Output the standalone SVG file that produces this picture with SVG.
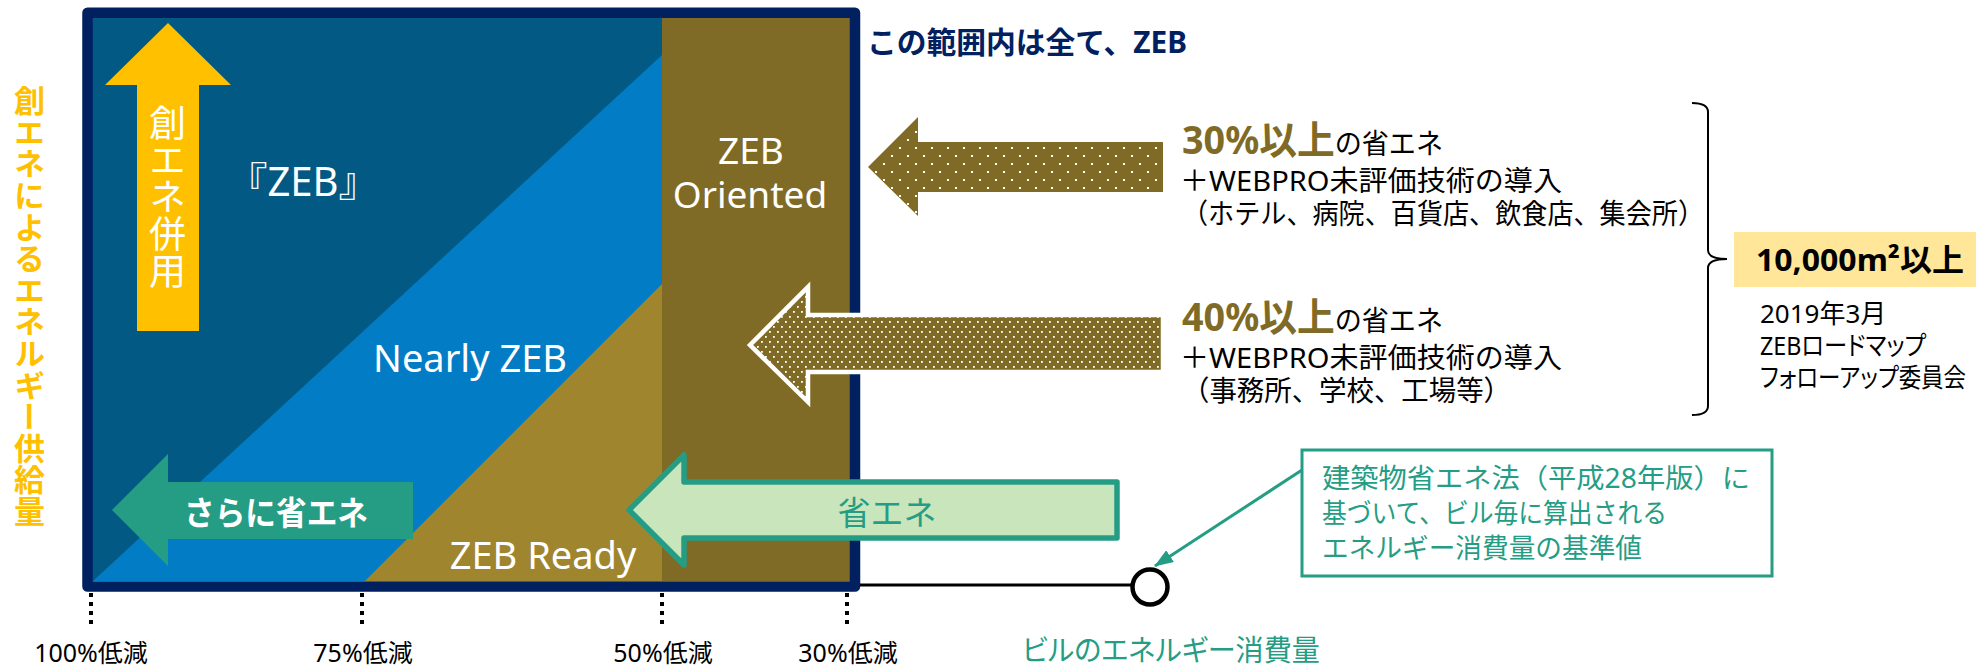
<svg xmlns="http://www.w3.org/2000/svg" width="1976" height="669" viewBox="0 0 1976 669">
<style>
text { font-family: "Noto Sans", "Noto Sans CJK JP", sans-serif; }
.w { fill: #ffffff; }
.k { fill: #000000; }
.teal { fill: #259D85; }
.vert { writing-mode: vertical-rl; text-orientation: upright; }
.palt { font-feature-settings: "palt"; }
.tick { stroke: #000; stroke-width: 4; stroke-dasharray: 4 5; fill: none; }
</style>
<defs>
<pattern id="dots1" width="16" height="16" patternUnits="userSpaceOnUse">
<rect width="16" height="16" fill="#806B26"/>
<rect x="3" y="3" width="2" height="2" fill="#fff"/>
<rect x="11" y="11" width="2" height="2" fill="#fff"/>
</pattern>
<pattern id="dots2" width="8" height="10" patternUnits="userSpaceOnUse">
<rect width="8" height="10" fill="#806B26"/>
<rect x="1" y="1" width="1.8" height="1.8" fill="#fff"/>
<rect x="5" y="6" width="1.8" height="1.8" fill="#fff"/>
</pattern>
<marker id="ah" markerWidth="20" markerHeight="16" refX="18" refY="7" orient="auto" markerUnits="userSpaceOnUse">
<path d="M0,0 L19,7 L0,14 Z" fill="#259D85"/>
</marker>
</defs>

<g id="chart">
<rect x="92" y="18" width="758" height="563" fill="#025A84"/>
<polygon points="93,581 662,55 662,581" fill="#027CC5"/>
<polygon points="365,581 662,284 662,581" fill="#A0852F"/>
<rect x="662" y="18" width="188" height="563" fill="#806B26"/>
<rect x="87.5" y="12.7" width="767.5" height="573.8" fill="none" stroke="#002060" stroke-width="10.5" stroke-linejoin="round"/>
</g>

<g id="zeb-label"><text x="303" y="196" font-size="40" text-anchor="middle" class="w">『ZEB』</text></g>
<g id="nearly-zeb-label"><text x="470" y="372" font-size="38" text-anchor="middle" class="w">Nearly ZEB</text></g>
<g id="zeb-ready-label"><text x="543" y="569" font-size="38" text-anchor="middle" class="w">ZEB Ready</text></g>
<g id="zeb-oriented-label">
<text x="751" y="164" font-size="37" text-anchor="middle" class="w">ZEB</text>
<text x="750" y="208" font-size="37" text-anchor="middle" class="w">Oriented</text>
</g>

<g id="up-arrow">
<polygon points="168,23 231,85 199,85 199,331 137,331 137,85 105,85" fill="#FFC000"/>
<text x="166" y="104" font-size="37" class="w vert">創エネ併用</text>
</g>

<g id="more-saving-arrow">
<polygon points="112,510 168,454 168,482 413,482 413,539 168,539 168,566" fill="#259D85"/>
<text x="184" y="525" font-size="33" font-weight="bold" class="w" textLength="184" lengthAdjust="spacingAndGlyphs">さらに省エネ</text>
</g>

<g id="saving-arrow">
<polygon points="629,510 684,455 684,482 1117,482 1117,538 684,538 684,565" fill="#C8E5BC" stroke="#259D85" stroke-width="5.5" stroke-linejoin="round"/>
<text x="887" y="525" font-size="33" text-anchor="middle" class="teal">省エネ</text>
</g>

<g id="arrow-30">
<polygon points="868,167 918,117 918,142 1163,142 1163,192 918,192 918,216" fill="url(#dots1)"/>
</g>
<g id="arrow-40">
<polygon points="750,345 808,287 808,315 1163,315 1163,372 808,372 808,402" fill="url(#dots2)" stroke="#fff" stroke-width="4.5"/>
</g>

<g id="title"><text x="867" y="53" font-size="30" font-weight="bold" fill="#002060" textLength="320" lengthAdjust="spacingAndGlyphs">この範囲内は全て、ZEB</text></g>

<g id="left-axis-label"><text x="28" y="85" font-size="31" font-weight="bold" fill="#FFC000" class="vert" letter-spacing="0.6">創エネによるエネルギー供給量</text></g>

<g id="ticks">
<line x1="91" y1="593" x2="91" y2="625" class="tick"/>
<line x1="362" y1="593" x2="362" y2="625" class="tick"/>
<line x1="662" y1="593" x2="662" y2="625" class="tick"/>
<line x1="847" y1="593" x2="847" y2="625" class="tick"/>
<text x="91" y="662" font-size="25" text-anchor="middle" class="k">100%低減</text>
<text x="363" y="662" font-size="25" text-anchor="middle" class="k">75%低減</text>
<text x="663" y="662" font-size="25" text-anchor="middle" class="k">50%低減</text>
<text x="848" y="662" font-size="25" text-anchor="middle" class="k">30%低減</text>
</g>

<g id="connectors">
<line x1="860" y1="585" x2="1131" y2="585" stroke="#000" stroke-width="3"/>
<line x1="1302" y1="470" x2="1155" y2="566" stroke="#259D85" stroke-width="3" marker-end="url(#ah)"/>
</g>

<g id="baseline-point"><circle cx="1150" cy="587" r="17.5" fill="#fff" stroke="#000" stroke-width="4.5"/></g>
<g id="x-axis-label"><text x="1022" y="661" font-size="29" class="teal palt" textLength="298" lengthAdjust="spacingAndGlyphs">ビルのエネルギー消費量</text></g>

<g id="note-box">
<rect x="1302" y="450" width="470" height="126" fill="#fff" stroke="#259D85" stroke-width="3"/>
<text x="1322" y="488" font-size="27" class="teal" textLength="428" lengthAdjust="spacingAndGlyphs">建築物省エネ法（平成28年版）に</text>
<text x="1322" y="523" font-size="27" class="teal" textLength="345" lengthAdjust="spacingAndGlyphs">基づいて、ビル毎に算出される</text>
<text x="1322" y="558" font-size="27" class="teal" textLength="320" lengthAdjust="spacingAndGlyphs">エネルギー消費量の基準値</text>
</g>

<g id="text-30">
<text x="1182" y="154" textLength="261" lengthAdjust="spacingAndGlyphs"><tspan font-size="39" font-weight="bold" fill="#806B26">30%以上</tspan><tspan font-size="28" fill="#000">の省エネ</tspan></text>
<text x="1180" y="191" font-size="28" class="k" textLength="382" lengthAdjust="spacingAndGlyphs">＋WEBPRO未評価技術の導入</text>
<text x="1182" y="224" font-size="28" class="k" textLength="522" lengthAdjust="spacingAndGlyphs">（ホテル、病院、百貨店、飲食店、集会所）</text>
</g>

<g id="text-40">
<text x="1182" y="331" textLength="261" lengthAdjust="spacingAndGlyphs"><tspan font-size="39" font-weight="bold" fill="#806B26">40%以上</tspan><tspan font-size="28" fill="#000">の省エネ</tspan></text>
<text x="1180" y="368" font-size="28" class="k" textLength="382" lengthAdjust="spacingAndGlyphs">＋WEBPRO未評価技術の導入</text>
<text x="1182" y="401" font-size="28" class="k" textLength="329" lengthAdjust="spacingAndGlyphs">（事務所、学校、工場等）</text>
</g>

<g id="brace"><path d="M1692,103 Q1708,103 1708,112 V250 Q1708,259 1727,259 Q1708,259 1708,268 V406 Q1708,415 1692,415" fill="none" stroke="#000" stroke-width="2"/></g>

<g id="area-box">
<rect x="1734" y="232" width="242" height="55" fill="#FFE699"/>
<text x="1756" y="271" font-size="31" font-weight="bold" class="k" textLength="208" lengthAdjust="spacingAndGlyphs">10,000m²以上</text>
</g>

<g id="source-note">
<text x="1760" y="323" font-size="26" class="k">2019年3月</text>
<text x="1760" y="355" font-size="26" class="k palt" textLength="166" lengthAdjust="spacingAndGlyphs">ZEBロードマップ</text>
<text x="1760" y="387" font-size="26" class="k palt" textLength="206" lengthAdjust="spacingAndGlyphs">フォローアップ委員会</text>
</g>
</svg>
